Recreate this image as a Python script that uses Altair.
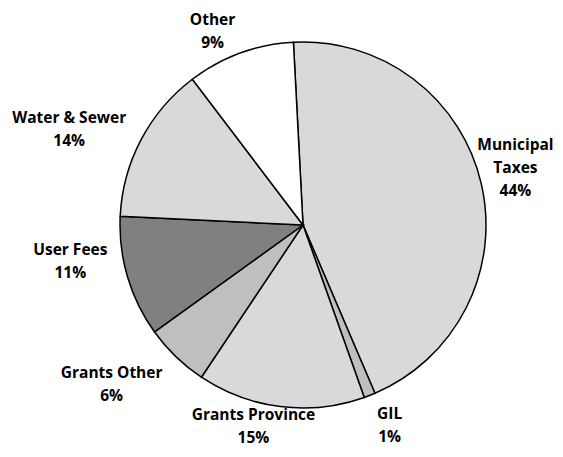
import altair as alt
import pandas as pd

# ---- data ----
categories = ["Municipal Taxes", "GIL", "Grants Province", "Grants Other",
              "User Fees", "Water & Sewer", "Other"]
values = [44.4, 1.0, 14.8, 5.7, 10.7, 13.9, 9.5]
label_text = ["Municipal\nTaxes\n44%", "GIL\n1%", "Grants Province\n15%",
              "Grants Other\n6%", "User Fees\n11%", "Water & Sewer\n14%", "Other\n9%"]
title_text = "Populations over 3,000"

# ---- style / layout ----
colors = ["#d9d9d9", "#bfbfbf", "#d9d9d9", "#bfbfbf", "#808080", "#d9d9d9", "#ffffff"]
label_radius = [227, 208, 196, 242, 234, 257, 224]
label_nudge = [-2.1, -0.9, 2.1, 2.3, 2.9, -0.9, -1.03]
start = -3.0 * 3.141592653589793 / 180
cx, cy = 295, 217
font = "Open Sans"

df = pd.DataFrame({
    "idx": list(range(len(categories))),
    "category": categories,
    "value": values,
    "label": label_text,
    "label_r": label_radius,
    "nudge": label_nudge,
})

theta_scale = alt.Scale(domain=[0, 100], range=[start, start + 2 * 3.141592653589793])

base = alt.Chart(df)

arcs = base.mark_arc(radius=183, stroke="black", strokeWidth=1.5).encode(
    theta=alt.Theta("value:Q", stack=True, scale=theta_scale),
    order=alt.Order("idx:Q"),
    color=alt.Color("category:N", scale=alt.Scale(domain=categories, range=colors), legend=None),
    x=alt.value(cx),
    y=alt.value(cy),
)

labels = base.transform_window(
    cum="sum(value)", sort=[alt.SortField("idx")]
).transform_calculate(
    mid="datum.cum - datum.value / 2 + datum.nudge"
).mark_text(
    font=font, fontSize=15.5, fontWeight="bold", lineBreak="\n", lineHeight=23,
    align="center", baseline="middle", color="black",
).encode(
    theta=alt.Theta("mid:Q", stack=False, scale=theta_scale),
    radius=alt.Radius("label_r:Q", scale=None),
    text="label:N",
    x=alt.value(cx),
    y=alt.value(cy),
)

title = alt.Chart(pd.DataFrame({"t": [title_text]})).mark_text(
    font=font, fontSize=18, fontWeight="bold", align="center", baseline="bottom", color="black"
).encode(text="t:N", x=alt.value(318), y=alt.value(-5))

chart = alt.layer(arcs, labels, title).properties(
    width=547, height=441, padding=0,
    autosize=alt.AutoSizeParams(type="none"),
).configure_view(stroke=None)

chart.save("out.html", embed_options={"renderer": "svg", "actions": False})
